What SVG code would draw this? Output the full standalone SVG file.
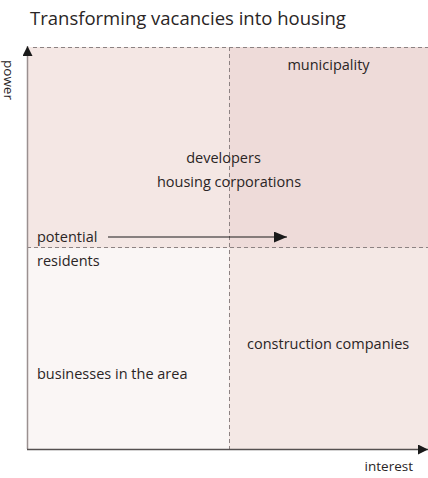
<svg xmlns="http://www.w3.org/2000/svg" width="428" height="478" viewBox="0 0 428 478">
<style>
text{font-family:"Open Sans","Noto Sans",sans-serif;fill:#2a2525;font-size:14.5px}
.dash{stroke:#8c8282;stroke-width:1;stroke-dasharray:4 3;fill:none}
</style>
<defs>
<marker id="ah" viewBox="0 0 10 10" refX="10" refY="5" markerWidth="10" markerHeight="10" markerUnits="userSpaceOnUse" orient="auto"><path d="M0,0 L10,5 L0,10 Z" fill="#1a1a1a"/></marker>
<marker id="ah2" viewBox="0 0 12 10" refX="12" refY="5" markerWidth="13" markerHeight="11" markerUnits="userSpaceOnUse" orient="auto"><path d="M0,0 L12,5 L0,10 Z" fill="#1a1a1a"/></marker>
</defs>
<rect width="428" height="478" fill="#ffffff"/>
<text x="30" y="25" style="font-size:18.5px">Transforming vacancies into housing</text>
<g id="quadrants">
<rect x="27" y="47" width="202" height="201" fill="#f4e7e4"/>
<rect x="229" y="47" width="199" height="201" fill="#eedbd9"/>
<rect x="27" y="248" width="202" height="201" fill="#faf6f5"/>
<rect x="229" y="248" width="199" height="201" fill="#f4e8e5"/>
</g>
<g id="grid">
<line class="dash" x1="33" y1="47.5" x2="428" y2="47.5"/>
<line class="dash" x1="229.5" y1="47" x2="229.5" y2="449"/>
<line class="dash" x1="27" y1="247.5" x2="428" y2="247.5"/>
</g>
<g id="connectors">
<line x1="27.5" y1="449" x2="27.5" y2="46" stroke="#9a9090" stroke-width="1.5" marker-end="url(#ah)"/>
<line x1="27" y1="449.5" x2="428" y2="449.5" stroke="#555050" stroke-width="1.5" marker-end="url(#ah)"/>
<line x1="108" y1="237" x2="287" y2="237" stroke="#1a1a1a" stroke-width="1.2" marker-end="url(#ah2)"/>
</g>
<g id="axis-labels">
<text transform="translate(4,60) rotate(90)" style="font-size:13.5px">power</text>
<text x="413" y="471" text-anchor="end" style="font-size:13.5px">interest</text>
</g>
<g id="municipality"><text x="328.5" y="70" text-anchor="middle">municipality</text></g>
<g id="developers"><text x="223.5" y="163" text-anchor="middle">developers</text></g>
<g id="housing-corporations"><text x="229" y="187" text-anchor="middle">housing corporations</text></g>
<g id="potential-residents"><text x="37" y="242">potential</text><text x="37" y="266">residents</text></g>
<g id="construction-companies"><text x="247" y="349">construction companies</text></g>
<g id="businesses"><text x="37" y="379">businesses in the area</text></g>
</svg>
